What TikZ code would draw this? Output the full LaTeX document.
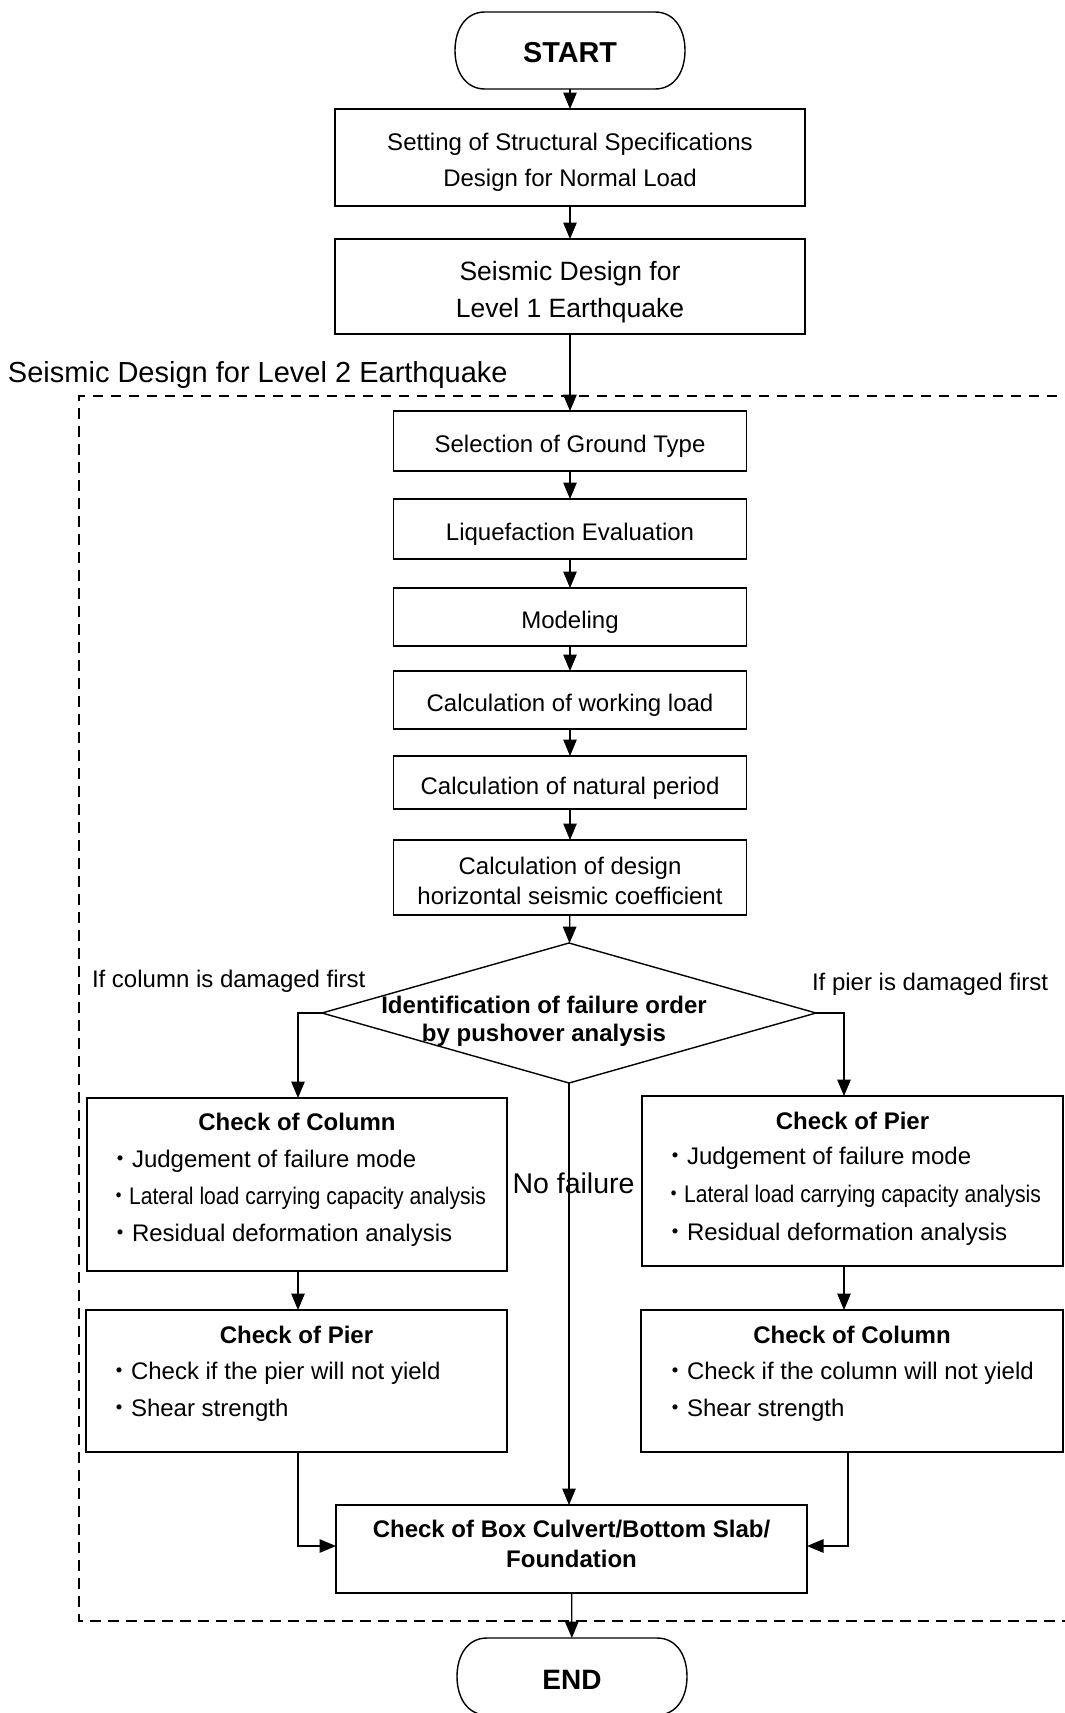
\documentclass[tikz,border=0pt]{standalone}
\usepackage{graphicx}
\usepackage{fontspec}
\setmainfont{Liberation Sans}
\newfontfamily\cjkfont{Noto Sans CJK JP}
\usetikzlibrary{arrows.meta,shapes.geometric}

% full-width bullet used in the check lists
\newcommand\bul{{\cjkfont ・}}
% invisible strut that lowers the text block inside a box
\newcommand\topstrut[1]{\rule{0pt}{#1}}

% rounded outline for the START / END terminals
\newcommand\termoutline[1]{%
  \draw[outline] ([xshift=30pt]#1.north west) -- ([xshift=-30pt]#1.north east)
    .. controls ([xshift=-10pt]#1.north east) and ([yshift=-18pt]#1.north east) .. (#1.east)
    .. controls ([yshift=18pt]#1.south east) and ([xshift=-10pt]#1.south east) .. ([xshift=-30pt]#1.south east)
    -- ([xshift=30pt]#1.south west)
    .. controls ([xshift=10pt]#1.south west) and ([yshift=18pt]#1.south west) .. (#1.west)
    .. controls ([yshift=-18pt]#1.north west) and ([xshift=10pt]#1.north west) .. ([xshift=30pt]#1.north west)
    -- cycle;}

\begin{document}
\begin{tikzpicture}[x=1pt,y=-1pt,
  every node/.style={inner sep=0pt, outer sep=0pt},
  outline/.style={line width=1.4pt},
  box/.style={draw, line width=1.4pt, align=center, font=\fontsize{24}{36}\selectfont},
  terminal/.style={minimum width=230, minimum height=77, font=\bfseries\fontsize{28.8}{32}\selectfont},
  conn/.style={line width=1.2pt, -{Triangle[width=13.5pt,length=16.5pt]}},
  txt/.style={font=\fontsize{24}{28}\selectfont, text height=14pt, text depth=0pt},
  btxt/.style={font=\bfseries\fontsize{24}{28}\selectfont, text height=14pt, text depth=0pt},
  bigtxt/.style={font=\fontsize{29}{34}\selectfont, text height=17pt, text depth=0pt},
  dashframe/.style={line width=2.6pt, dash pattern=on 10.5pt off 7.5pt}
]
\useasboundingbox (0,0) rectangle (1065,1713);

% ---- upper part -------------------------------------------------
\node[terminal] (start) at (570,50.5) {\topstrut{25pt}START};
\termoutline{start}

\node[box, minimum width=470, minimum height=97] (spec) at (570,157.5)
  {\topstrut{27.5pt}Setting of Structural Specifications\\Design for Normal Load};
\node[box, minimum width=470, minimum height=95, font=\fontsize{26.5}{37}\selectfont] (lvlone) at (570,286.5)
  {\topstrut{29.5pt}Seismic Design for\\Level 1 Earthquake};

% ---- level 2 region ---------------------------------------------
\node[bigtxt, anchor=west] (lvltwo) at (8,374) {Seismic Design for Level 2 Earthquake};
\draw[dashframe] (1075,396) -- (79,396) -- (79,1621) -- (1075,1621);

\node[box, minimum width=353, minimum height=60] (ground) at (570,441) {\topstrut{27.5pt}Selection of Ground Type};
\node[box, minimum width=353, minimum height=60] (liq) at (570,529) {\topstrut{27.5pt}Liquefaction Evaluation};
\node[box, minimum width=353, minimum height=58] (model) at (570,617) {\topstrut{27.5pt}Modeling};
\node[box, minimum width=353, minimum height=58] (wload) at (570,700) {\topstrut{27.5pt}Calculation of working load};
\node[box, minimum width=353, minimum height=53] (period) at (570,782.5) {\topstrut{29pt}Calculation of natural period};
\node[box, minimum width=353, minimum height=75, font=\fontsize{24}{30}\selectfont] (coef) at (570,877.5)
  {\topstrut{24pt}Calculation of design\\horizontal seismic coefficient};

\node[draw, diamond, line width=1.4pt, minimum width=494, minimum height=140] (order) at (569,1013) {};
\node[align=center, font=\bfseries\fontsize{24}{28}\selectfont] (ordertext) at (544,1021)
  {Identification of failure order\\by pushover analysis};

\node[txt, anchor=west] (ifcol) at (92,980) {If column is damaged first};
\node[txt, anchor=west] (ifpier) at (812,983) {If pier is damaged first};

% left branch: column damaged first
\node[draw, line width=1.4pt, minimum width=420, minimum height=173] (colL) at (297,1184.5) {};
\node[btxt] (colLt) at (297,1123) {Check of Column};
\node[txt, anchor=west] (colLa) at (108,1160) {\bul Judgement of failure mode};
\node[txt, anchor=west] (colLb) at (108,1197) {\scalebox{0.88}[1]{\bul Lateral load carrying capacity analysis}};
\node[txt, anchor=west] (colLc) at (108,1234) {\bul Residual deformation analysis};

\node[draw, line width=1.4pt, minimum width=421, minimum height=142] (pierL) at (296.5,1381) {};
\node[btxt] (pierLt) at (296.5,1336) {Check of Pier};
\node[txt, anchor=west] (pierLa) at (107,1372) {\bul Check if the pier will not yield};
\node[txt, anchor=west] (pierLb) at (107,1409) {\bul Shear strength};

% right branch: pier damaged first
\node[draw, line width=1.4pt, minimum width=421, minimum height=170] (pierR) at (852.5,1181) {};
\node[btxt] (pierRt) at (852.5,1122) {Check of Pier};
\node[txt, anchor=west] (pierRa) at (663,1157) {\bul Judgement of failure mode};
\node[txt, anchor=west] (pierRb) at (663,1195) {\scalebox{0.88}[1]{\bul Lateral load carrying capacity analysis}};
\node[txt, anchor=west] (pierRc) at (663,1233) {\bul Residual deformation analysis};

\node[draw, line width=1.4pt, minimum width=422, minimum height=142] (colR) at (852,1381) {};
\node[btxt] (colRt) at (852,1336) {Check of Column};
\node[txt, anchor=west] (colRa) at (663,1372) {\bul Check if the column will not yield};
\node[txt, anchor=west] (colRb) at (663,1409) {\bul Shear strength};

\node[bigtxt, font=\fontsize{28.5}{34}\selectfont] (nofail) at (573.5,1185) {No failure};

\node[box, minimum width=471, minimum height=88, font=\bfseries\fontsize{24}{29.5}\selectfont] (bottom) at (571.5,1549)
  {Check of Box Culvert/Bottom Slab/\\Foundation\rule[-10pt]{0pt}{0pt}};

% ---- end ----------------------------------------------------------
\node[terminal, font=\bfseries\fontsize{28}{32}\selectfont] (end) at (572,1676.5) {\topstrut{25pt}END};
\termoutline{end}

% ---- connectors ---------------------------------------------------
\draw[conn] (start) -- (spec);
\draw[conn] (spec) -- (lvlone);
\draw[conn] (lvlone) -- (ground);
\draw[conn] (ground) -- (liq);
\draw[conn] (liq) -- (model);
\draw[conn] (model) -- (wload);
\draw[conn] (wload) -- (period);
\draw[conn] (period) -- (coef);
\draw[conn] (coef) -- (order);
\draw[conn] (order.west) -| ([xshift=1pt]colL.north);
\draw[conn] (order.east) -| ([xshift=-8.5pt]pierR.north);
\draw[conn] ([xshift=1pt]colL.south) -- ([xshift=1.5pt]pierL.north);
\draw[conn] ([xshift=-8.5pt]pierR.south) -- ([xshift=-8pt]colR.north);
\draw[conn] (order.south) -- (order.south |- bottom.north);
\draw[conn] ([xshift=1.5pt]pierL.south) |- ([yshift=3pt]bottom.west);
\draw[conn] ([xshift=-4pt]colR.south) |- ([yshift=3pt]bottom.east);
\draw[conn] (bottom) -- (end);
\end{tikzpicture}
\end{document}
